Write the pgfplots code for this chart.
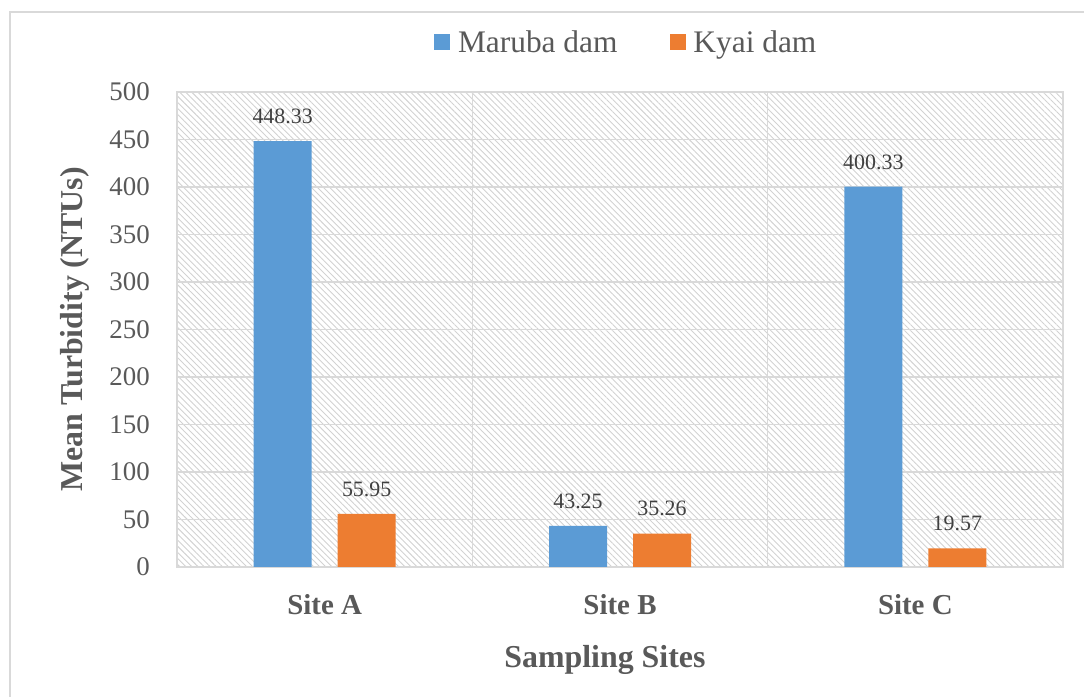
\documentclass[border=0pt]{standalone}
\usepackage{pgfplots}
\pgfplotsset{compat=1.18}
\usetikzlibrary{patterns.meta}
\usepackage{fontspec}
\setmainfont{Liberation Serif}
\definecolor{cblue}{HTML}{5B9BD5}
\definecolor{corange}{HTML}{ED7D31}
\definecolor{txt}{HTML}{595959}
\definecolor{vtxt}{HTML}{404040}
\definecolor{gridc}{HTML}{D9D9D9}
\begin{document}
\begin{tikzpicture}
\useasboundingbox (0bp,0bp) rectangle (1084bp,697bp);
\draw[gridc, line width=1.2bp] (10bp,-5bp) -- (10bp,685bp) -- (1090bp,685bp);
\begin{axis}[
  at={(177bp,130bp)}, anchor=south west,
  scale only axis, width=886bp, height=475bp,
  ybar=26bp, bar width=58bp,
  xmin=-0.5, xmax=2.5, ymin=0, ymax=500,
  xtick={0,1,2}, xticklabels={Site A,Site B,Site C},
  minor xtick={0.5,1.5},
  ytick={0,50,...,500},
  major tick length=0pt, minor tick length=0pt,
  ymajorgrids, xminorgrids,
  grid style={draw=gridc, line width=1.5bp},
  minor grid style={draw=gridc, line width=1.5bp},
  axis line style={draw=gridc, line width=1.5bp},
  axis background/.style={pattern={Lines[angle=-45,distance=4.3bp,line width=0.9bp]}, pattern color=gray!35},
  /pgf/number format/assume math mode=true,
  yticklabel style={font=\fontsize{27}{27}\selectfont, text=txt, inner sep=0pt, xshift=-27bp},
  xticklabel style={font=\fontsize{29}{29}\selectfont\bfseries, text=txt, inner sep=0pt, yshift=-27bp},
  xlabel={Sampling Sites},
  xlabel style={font=\fontsize{32}{32}\selectfont\bfseries, text=txt, at={(axis description cs:0.483,-0.196)}, anchor=center},
  ylabel={Mean Turbidity (NTUs)},
  ylabel style={font=\fontsize{32}{32}\selectfont\bfseries, text=txt, at={(axis description cs:-0.115,0.5)}, anchor=center, rotate=0},
  nodes near coords={\pgfmathprintnumber[fixed,fixed zerofill,precision=2,assume math mode=true]{\pgfplotspointmeta}},
  nodes near coords style={font=\fontsize{22}{22}\selectfont, text=vtxt, inner sep=0pt, anchor=south, yshift=17bp},
  legend style={at={(0.507,1.105)}, anchor=center, draw=none, fill=none,
    font=\fontsize{31.5}{31.5}\selectfont, text=txt, legend columns=2,
    /tikz/every even column/.append style={column sep=50bp}},
  legend image code/.code={\fill[#1, draw=none] (0bp,-8bp) rectangle (16bp,8bp); \path (22bp,0bp);},
]
\addplot[fill=cblue, draw=none] coordinates {(0,448.33) (1,43.25) (2,400.33)};
\addplot[fill=corange, draw=none] coordinates {(0,55.95) (1,35.26) (2,19.57)};
\legend{Maruba dam, Kyai dam}
\end{axis}
\end{tikzpicture}
\end{document}
